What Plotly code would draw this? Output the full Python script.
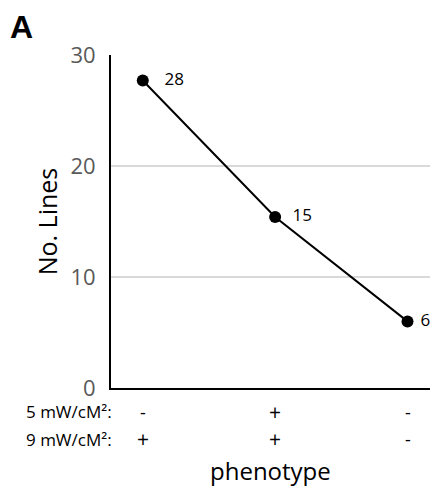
import plotly.graph_objects as go

categories = ["c1", "c2", "c3"]
values = [27.7, 15.4, 6.0]
value_labels = ["28", "15", "6"]
row_names = ["5 mW/cM²:", "9 mW/cM²:"]
row_5mw = ["-", "+", "-"]
row_9mw = ["+", "+", "-"]
y_ticks = [0, 10, 20, 30]

FONT = "Open Sans"
xpos = list(range(len(categories)))
label_pad = [3, 2, 1]
row_y = [-0.072, -0.154]

fig = go.Figure()
fig.add_trace(go.Scatter(
    x=xpos, y=values, mode="lines+markers+text",
    line=dict(color="black", width=2),
    marker=dict(color="black", size=12),
    text=[" " * p + t for p, t in zip(label_pad, value_labels)],
    textposition="middle right",
    textfont=dict(family=FONT, size=17, color="black"),
    cliponaxis=False, showlegend=False, hoverinfo="skip",
))

ann = []
for yp, name, row in zip(row_y, row_names, [row_5mw, row_9mw]):
    ann.append(dict(text=name, xref="paper", yref="paper", x=0.008, y=yp,
                    xanchor="right", yanchor="middle", showarrow=False,
                    font=dict(family=FONT, size=17, color="black")))
    for xi, s in zip(xpos, row):
        ann.append(dict(text=s, xref="x", yref="paper", x=xi, y=yp,
                        xanchor="center", yanchor="middle", showarrow=False,
                        font=dict(family=FONT, size=21 if s == "+" else 18, color="black")))
ann.append(dict(text="phenotype", xref="paper", yref="paper", x=0.5, y=-0.247,
                xanchor="center", yanchor="middle", showarrow=False,
                font=dict(family=FONT, size=24, color="black")))
ann.append(dict(text="<b>A</b>", xref="paper", yref="paper", x=-0.322, y=1.084,
                xanchor="left", yanchor="middle", showarrow=False,
                font=dict(family="Liberation Sans", size=32, color="black")))

fig.update_layout(
    width=436, height=495,
    margin=dict(l=111, r=6, t=55, b=107),
    plot_bgcolor="white", paper_bgcolor="white",
    annotations=ann,
    xaxis=dict(range=[-0.24, 2.17], showticklabels=False, showgrid=False,
               zeroline=False, showline=True, linecolor="black", linewidth=2,
               ticks=""),
    yaxis=dict(range=[0, 30], tickvals=y_ticks, showgrid=True,
               gridcolor="#d9d9d9", gridwidth=2, zeroline=False,
               showline=True, linecolor="black", linewidth=2, ticks="",
               ticklabelstandoff=9,
               tickfont=dict(family=FONT, size=22, color="#595959"),
               title=dict(text="No. Lines", standoff=6,
                          font=dict(family=FONT, size=25, color="black"))),
)
fig.write_html("out.html")
